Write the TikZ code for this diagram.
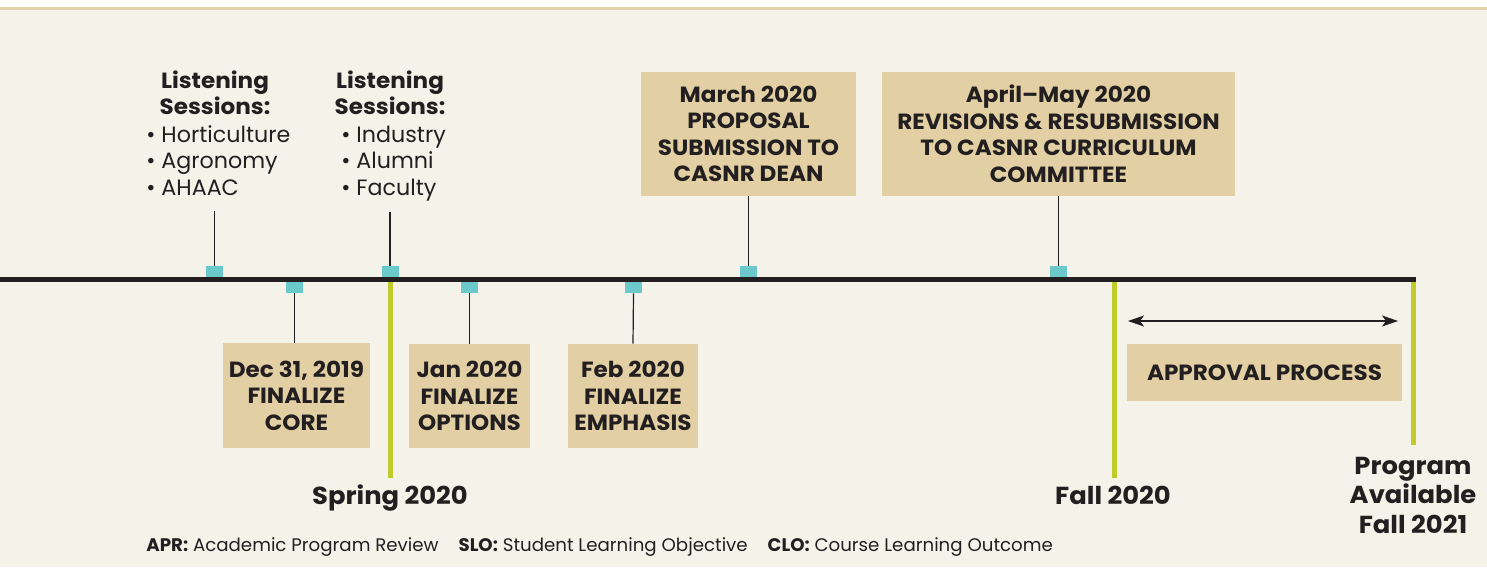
\documentclass[tikz,border=0pt]{standalone}
\usepackage{fontspec}
\setmainfont{Poppins}[FakeStretch=1.05]
\newfontfamily\footfont{Poppins}
\usetikzlibrary{arrows.meta}
\definecolor{bgc}{HTML}{F5F2EA}
\definecolor{tanbox}{HTML}{E2D0A4}
\definecolor{cyanc}{HTML}{6BC9CB}
\definecolor{limec}{HTML}{BFCC2A}
\definecolor{dark}{HTML}{231F20}
\definecolor{topline}{HTML}{E2D2A6}
\newcommand\boxfont{\fontsize{11}{13.25}\selectfont\bfseries}
\newcommand\listfont{\footfont\fontsize{11.1}{13.25}\selectfont}
\newcommand\bigfont{\fontsize{12.3}{14.75}\selectfont\bfseries}
\begin{document}
\begin{tikzpicture}[x=0.5pt,y=-0.5pt,
  box/.style={fill=tanbox, inner sep=0pt, align=center, font=\boxfont, text=dark},
  sq/.style={fill=cyanc, minimum width=8.5pt, minimum height=5.5pt, inner sep=0pt},
  conn/.style={draw=dark, line width=0.6pt},
  gline/.style={draw=limec, line width=2.5pt},
  head/.style={align=center, font=\boxfont, text=dark, inner sep=0pt},
  blist/.style={align=left, font=\listfont, text=dark, inner sep=0pt},
  datelabel/.style={align=center, font=\bigfont, text=dark, inner sep=0pt}]
\useasboundingbox (0,0) rectangle (1487,567);
\fill[white] (0,0) rectangle (1487,567);
\fill[bgc] (0,9) rectangle (1487,567);
\fill[topline] (0,7) rectangle (1487,10);

% green period lines
\coordinate (g1a) at (390,281); \coordinate (g1b) at (390,478);
\coordinate (g2a) at (1114,281); \coordinate (g2b) at (1114,478);
\coordinate (g3a) at (1413,281); \coordinate (g3b) at (1413,445);
\draw[gline] (g1a) -- (g1b);
\draw[gline] (g2a) -- (g2b);
\draw[gline] (g3a) -- (g3b);

% main axis
\coordinate (ax0) at (0,279.5); \coordinate (ax1) at (1416,279.5);
\draw[draw=dark, line width=2.5pt] (ax0) -- (ax1);

% markers
\node[sq] (s1) at (214.5,271.5) {};
\node[sq] (s2) at (390,271.5) {};
\node[sq] (s3) at (748.5,271.5) {};
\node[sq] (s4) at (1058.5,271.5) {};
\node[sq] (s5) at (294.5,287.5) {};
\node[sq] (s6) at (469.5,287.5) {};
\node[sq] (s7) at (633.5,287.5) {};

% listening sessions
\node[head, anchor=base] (h1) at (215,115) {Listening\\Sessions:};
\node[blist, anchor=base west] (b1) at (146,195) {• Horticulture\\• Agronomy\\• AHAAC};
\node[head, anchor=base] (h2) at (390,115) {Listening\\Sessions:};
\node[blist, anchor=base west] (b2) at (341,195) {• Industry\\• Alumni\\• Faculty};
\coordinate (l1) at (214.5,211);
\coordinate (l2) at (390,212);
\draw[conn] (s1.north) -- (l1);
\draw[conn] (s2.north) -- (l2);

% upper boxes
\node[box, minimum width=107.5pt, minimum height=62pt] (mar) at (748.5,134) {March 2020\\PROPOSAL\\SUBMISSION TO\\CASNR DEAN};
\node[box, minimum width=176.5pt, minimum height=62pt] (apr) at (1058.5,134) {April--May 2020\\REVISIONS \& RESUBMISSION\\TO CASNR CURRICULUM\\COMMITTEE};
\draw[conn] (s3.north) -- (mar.south);
\draw[conn] (s4.north) -- (apr.south);

% lower boxes
\node[box, minimum width=73.5pt, minimum height=52.5pt] (dec) at (296.5,395.5) {Dec 31, 2019\\FINALIZE\\CORE};
\node[box, minimum width=60.5pt, minimum height=52pt] (jan) at (469.5,396) {Jan 2020\\FINALIZE\\OPTIONS};
\node[box, minimum width=65pt, minimum height=52pt] (feb) at (633,396) {Feb 2020\\FINALIZE\\EMPHASIS};
\draw[conn] (s5.south) -- (s5.south |- dec.north);
\draw[conn] (s6.south) -- (jan.north);
\draw[conn] (s7.south) -- (feb.north);

% approval process
\node[box, minimum width=137.5pt, minimum height=28.5pt] (appr) at (1264.5,372.5) {APPROVAL PROCESS};
\coordinate (a1) at (1128,321); \coordinate (a2) at (1398,321);
\draw[conn, {Stealth[length=8pt,width=5.5pt,inset=2pt]}-{Stealth[length=8pt,width=5.5pt,inset=2pt]}] (a1) -- (a2);

% period labels
\node[datelabel, anchor=base] (spring) at (390,504) {Spring 2020};
\node[datelabel, anchor=base] (fall) at (1113,504) {Fall 2020};
\node[datelabel, anchor=base] (avail) at (1413,533) {Program\\Available\\Fall 2021};

% footer
\node[anchor=base west, inner sep=0pt, text=dark, font=\footfont\fontsize{9.1}{10}\selectfont] (foot) at (146,551) {\textbf{APR:} Academic Program Review\hspace{10pt}\textbf{SLO:} Student Learning Objective\hspace{10pt}\textbf{CLO:} Course Learning Outcome};
\end{tikzpicture}
\end{document}
